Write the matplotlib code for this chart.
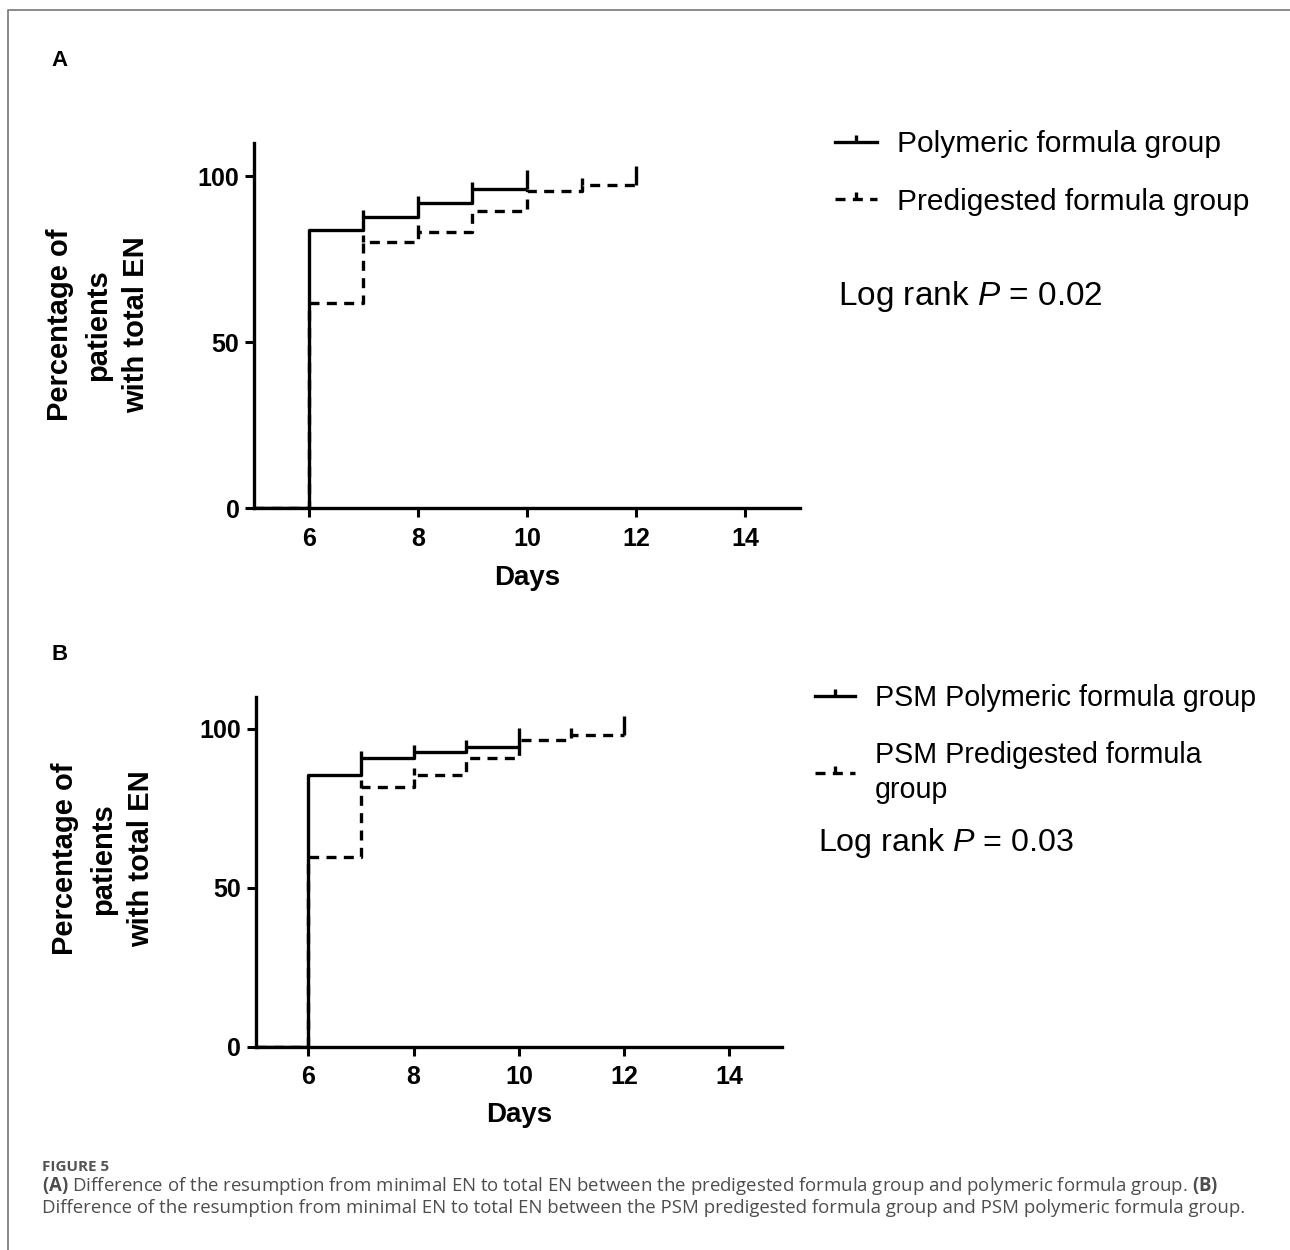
from matplotlib import pyplot as plt
from matplotlib.lines import Line2D

plt.rcParams['font.family'] = ['Liberation Sans', 'DejaVu Sans']
plt.rcParams['mathtext.fontset'] = 'custom'
plt.rcParams['mathtext.it'] = 'Liberation Sans:italic'
plt.rcParams['mathtext.rm'] = 'Liberation Sans'
plt.rcParams['mathtext.bf'] = 'Open Sans:bold'

# panel A
poly_a_days  = [5, 6, 7, 8, 9, 10]
poly_a_pct   = [0, 83.7, 87.8, 91.8, 96.0, 96.0]
poly_a_cens  = [7, 8, 9]
pre_a_days   = [5, 6, 7, 8, 9, 10, 11, 12]
pre_a_pct    = [0, 61.7, 80.1, 83.3, 89.6, 95.6, 97.2, 97.2]
pre_a_cens   = [7, 8, 11]

# panel B
poly_b_days  = [5, 6, 7, 8, 9, 10]
poly_b_pct   = [0, 85.4, 90.6, 92.7, 94.2, 94.2]
poly_b_cens  = [7, 8, 9]
pre_b_days   = [5, 6, 7, 8, 9, 10, 11, 12]
pre_b_pct    = [0, 59.7, 81.7, 85.3, 90.7, 96.3, 98.0, 98.0]
pre_b_cens   = [7, 8, 11]

labels_a  = ["Polymeric formula group", "Predigested formula group"]
labels_b  = ["PSM Polymeric formula group", "PSM Predigested formula\ngroup"]
pvalues   = ["0.02", "0.03"]
xticks    = [6, 8, 10, 12, 14]
yticks    = [0, 50, 100]

W, H = 1290, 1250
fig = plt.figure(figsize=(W / 100, H / 100), dpi=100)

LW = 2.4
DASH = (0, (3, 2.2))


def px(x, y):
    return x / W, 1 - y / H


def draw_curve(ax, days, pct, cens, ls):
    ax.step(days, pct, where='post', color='black', lw=LW, linestyle=ls,
            solid_capstyle='butt', dash_capstyle='butt')
    levels = [pct[days.index(d)] for d in cens]
    ax.plot(cens, levels, linestyle='none', marker=2, markersize=5,
            mew=LW, color='black')
    ax.plot(days[-1], pct[-1], linestyle='none', marker=2, markersize=13.5,
            mew=LW, color='black')


def style_axis(ax):
    ax.set_xlim(5, 15)
    ax.set_ylim(0, 110)
    ax.set_xticks(xticks)
    ax.set_yticks(yticks)
    for s in ['top', 'right']:
        ax.spines[s].set_visible(False)
    for s in ['left', 'bottom']:
        ax.spines[s].set_linewidth(2.4)
    ax.tick_params(length=6.5, width=2.2, labelsize=18)
    ax.tick_params(axis='x', pad=7)
    ax.tick_params(axis='y', pad=4)
    for t in ax.get_xticklabels() + ax.get_yticklabels():
        t.set_fontweight('bold')


panels = [
    dict(rect=(254, 143, 800, 508), data=[(poly_a_days, poly_a_pct, poly_a_cens), (pre_a_days, pre_a_pct, pre_a_cens)],
         labels=labels_a, letter=("A", 60, 60), ylab=(98, 325), xlab=(527, 578),
         leg=(835, 130), logrank=(838, 297), p=pvalues[0], fs=21.5, lrfs=24),
    dict(rect=(255.7, 696.7, 782, 1046.7), data=[(poly_b_days, poly_b_pct, poly_b_cens), (pre_b_days, pre_b_pct, pre_b_cens)],
         labels=labels_b, letter=("B", 60, 654), ylab=(103, 859), xlab=(519, 1115),
         leg=(815, 684), logrank=(818, 843), p=pvalues[1], fs=20.6, lrfs=23.2),
]

for p in panels:
    x0, y0, x1, y1 = p['rect']
    ax = fig.add_axes([x0 / W, 1 - y1 / H, (x1 - x0) / W, (y1 - y0) / H])
    (d1, v1, c1), (d2, v2, c2) = p['data']
    draw_curve(ax, d2, v2, c2, DASH)
    draw_curve(ax, d1, v1, c1, '-')
    style_axis(ax)

    handles = [
        Line2D([], [], color='black', lw=LW, marker=2, markersize=5, mew=LW),
        Line2D([], [], color='black', lw=LW, linestyle=DASH, marker=2, markersize=5, mew=LW),
    ]
    leg = ax.legend(handles, p['labels'], loc='upper left', bbox_to_anchor=px(*p['leg']),
                    bbox_transform=fig.transFigure, frameon=False, fontsize=p['fs'],
                    borderpad=0, borderaxespad=0, handlelength=1.4, handletextpad=0.68,
                    labelspacing=1.0, numpoints=1)
    for t in leg.get_texts():
        t.set_linespacing(1.35)

    fig.text(*px(*p['logrank']), "Log rank $P$ = " + p['p'], fontsize=p['lrfs'],
             ha='left', va='center')
    fig.text(*px(*p['ylab']), "Percentage of\npatients\nwith total EN", rotation=90,
             ha='center', va='center', multialignment='center', fontsize=21,
             fontweight='bold', linespacing=1.45)
    fig.text(*px(*p['xlab']), "Days", ha='center', va='center', fontsize=20,
             fontweight='bold')
    letter, lx, ly = p['letter']
    fig.text(*px(lx, ly), letter, ha='center', va='center', fontsize=16,
             fontweight='bold')

# caption
cap_color = '#4d4d4d'
fig.text(*px(42, 1167), "FIGURE 5", fontsize=11, color='#555555', fontweight='bold',
         family='Open Sans', ha='left', va='center')
fig.text(*px(42, 1186),
         r"$\mathbf{(A)}$ Difference of the resumption from minimal EN to total EN between the "
         r"predigested formula group and polymeric formula group. $\mathbf{(B)}$",
         fontsize=13.4, color=cap_color, family='Open Sans', ha='left', va='center')
fig.text(*px(42, 1208),
         "Difference of the resumption from minimal EN to total EN between the PSM "
         "predigested formula group and PSM polymeric formula group.",
         fontsize=13.4, color=cap_color, family='Open Sans', ha='left', va='center')

# frame
fig.add_artist(Line2D([8 / W, 8 / W, 1], [0, 1 - 10 / H, 1 - 10 / H],
                      transform=fig.transFigure, color='#777777', lw=1.2))

fig.savefig("out.png", dpi=100)
